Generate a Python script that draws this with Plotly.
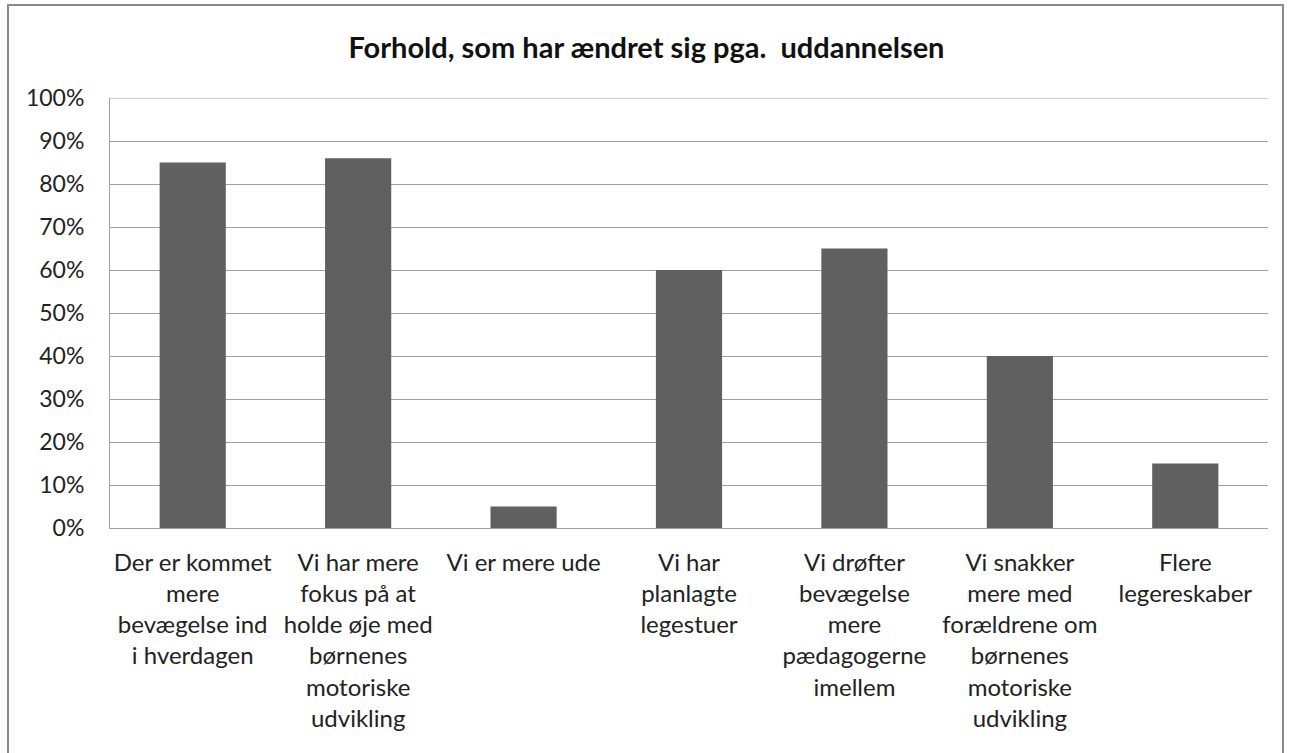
import plotly.graph_objects as go

categories = [
    "Der er kommet<br>mere<br>bevægelse ind<br>i hverdagen",
    "Vi har mere<br>fokus på at<br>holde øje med<br>børnenes<br>motoriske<br>udvikling",
    "Vi er mere ude",
    "Vi har<br>planlagte<br>legestuer",
    "Vi drøfter<br>bevægelse<br>mere<br>pædagogerne<br>imellem",
    "Vi snakker<br>mere med<br>forældrene om<br>børnenes<br>motoriske<br>udvikling",
    "Flere<br>legereskaber",
]
values = [0.85, 0.86, 0.05, 0.60, 0.65, 0.40, 0.15]
y_ticks = [i / 10 for i in range(11)]
y_tick_labels = [f"{i*10}%" for i in range(11)]

W, H = 1293, 753
L, R, T, B = 110, 25, 98, 753 - 528
pw, ph = W - L - R, H - T - B

fig = go.Figure(go.Bar(
    x=list(range(len(categories))), y=values,
    marker=dict(color="#606060", line=dict(width=0)),
    width=0.4,
))

fig.update_layout(
    width=W, height=H,
    margin=dict(l=L, r=R, t=T, b=B, autoexpand=False),
    paper_bgcolor="white", plot_bgcolor="white",
    font=dict(family="Lato, 'Open Sans', sans-serif", size=24, color="#222"),
    title=dict(text="<b>Forhold, som har ændret sig pga.  uddannelsen</b>",
               x=0.5, xanchor="center", y=1 - 48 / H, yanchor="middle",
               font=dict(size=29, color="#111")),
    showlegend=False,
    bargap=0.6,
)
fig.update_xaxes(
    tickmode="array", tickvals=list(range(len(categories))), ticktext=categories,
    range=[-0.5, len(categories) - 0.5],
    showline=True, linecolor="#a0a0a0", linewidth=1, mirror=False,
    showgrid=False, ticks="", tickfont=dict(size=24), tickangle=0,
    ticklabelstandoff=13,
)
fig.update_yaxes(
    range=[0, 1], tickmode="array", tickvals=y_ticks, ticktext=y_tick_labels,
    showgrid=True, gridcolor="#a0a0a0", gridwidth=1,
    showline=True, linecolor="#a0a0a0", linewidth=1,
    ticks="", tickfont=dict(size=23), zeroline=False,
    ticklabelstandoff=20,
)

# top gridline at 100%
fig.add_shape(type="line", xref="paper", yref="y", x0=0, x1=1, y0=1, y1=1,
              line=dict(color="#a0a0a0", width=1), layer="below")

# outer chart border (bottom edge lies outside the window)
fig.add_shape(type="rect", xref="paper", yref="paper",
              x0=(8 - L) / pw, x1=(1283 - L) / pw,
              y0=-400 / ph, y1=(528 - 5) / ph,
              line=dict(color="#8a8a8a", width=2), layer="below")

fig.write_html(
    "out.html",
    config={"displayModeBar": False},
    post_script="document.body.style.margin='0';document.body.style.overflow='hidden';",
)
